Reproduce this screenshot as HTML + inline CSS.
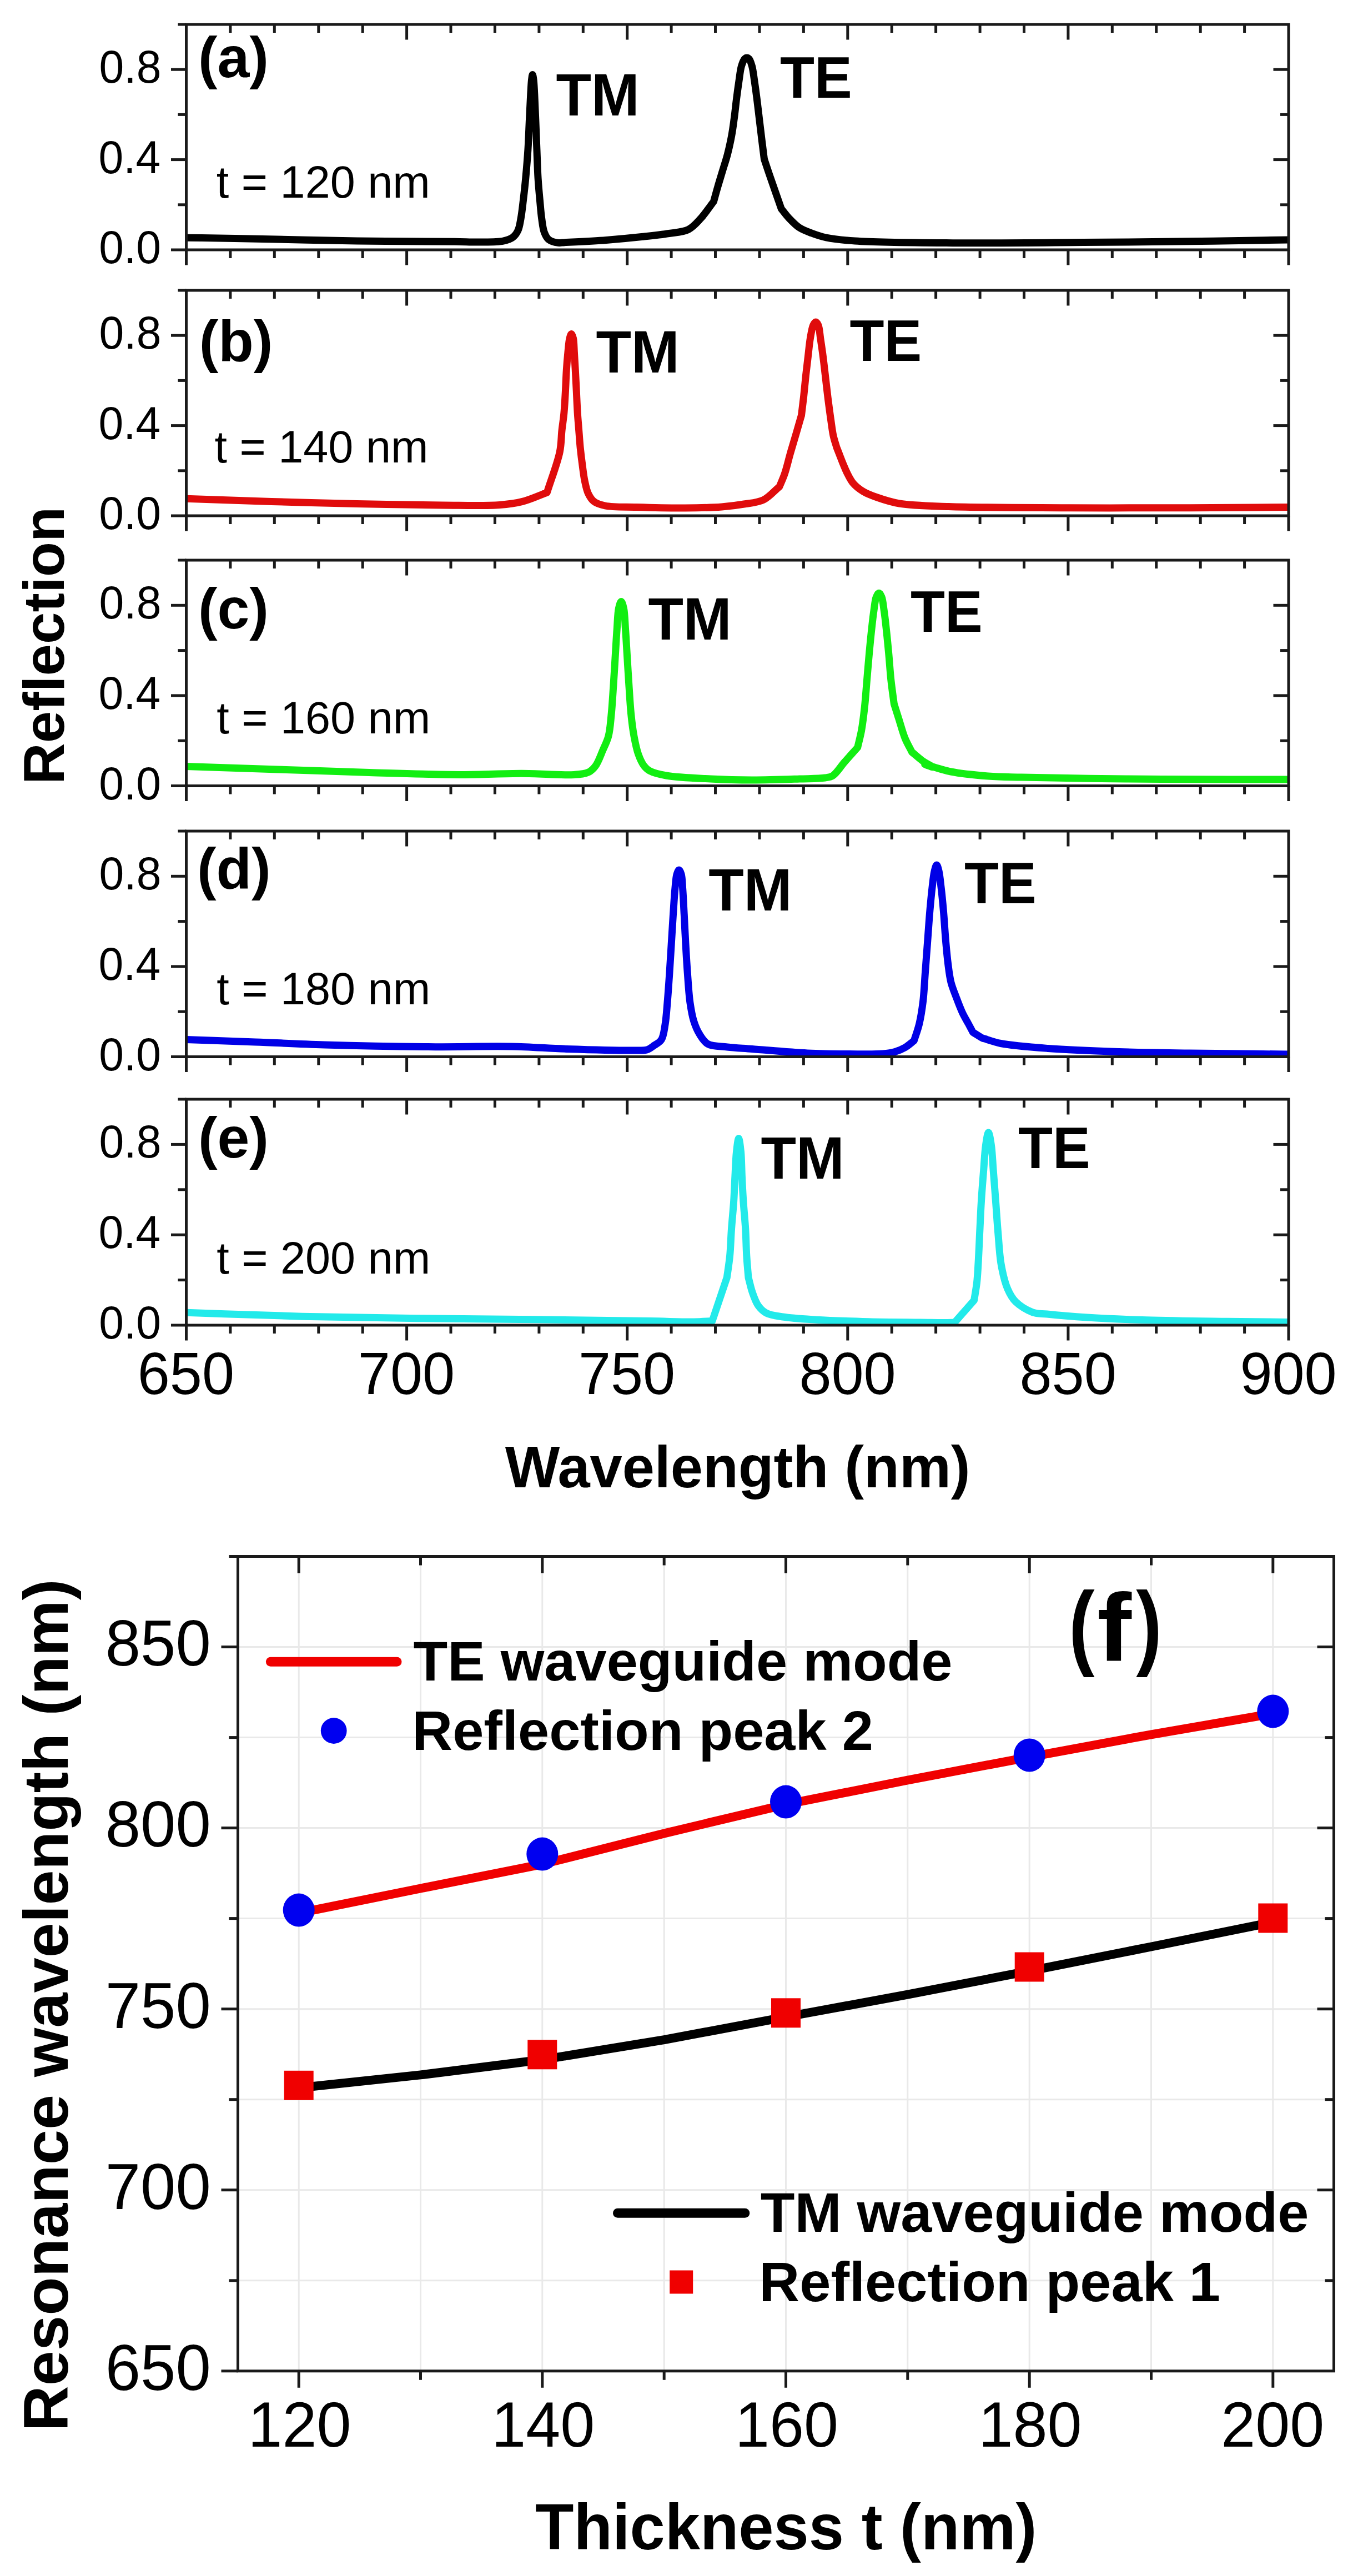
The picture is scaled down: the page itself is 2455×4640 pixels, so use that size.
<!DOCTYPE html>
<html><head><meta charset="utf-8"><title>Reflection spectra</title>
<style>html,body{margin:0;padding:0;background:#fff;overflow:hidden}svg{display:block}</style></head>
<body><svg width="2455" height="4640" viewBox="0 0 2455 4640">
<rect x="0" y="0" width="2455" height="4640" fill="#fff"/>
<g font-family="Liberation Sans, Arial, sans-serif">
<path d="M335.5,428.2 C364.7,428.6 387.2,428.9 423.0,429.5 C479.7,430.5 573.8,433.0 643.0,434.0 C704.9,434.9 779.9,434.8 819.0,435.3 C838.6,435.5 848.4,436.2 863.0,436.0 C877.5,435.8 895.4,436.4 906.4,434.1 C913.6,432.6 919.1,430.9 923.6,427.5 C927.7,424.5 930.5,420.5 932.8,415.6 C935.7,409.7 936.6,401.9 938.1,393.8 C939.9,384.0 941.1,372.3 942.5,360.8 C944.0,348.2 945.5,335.4 946.8,321.2 C948.3,304.9 949.9,286.0 951.0,268.4 C952.1,250.8 952.7,232.6 953.5,215.6 C954.3,199.7 955.0,182.7 955.8,169.4 C956.4,159.4 956.8,149.4 957.6,143.0 C958.1,139.3 958.6,134.4 959.2,134.4 C959.8,134.4 960.5,139.3 961.0,143.0 C961.9,149.4 962.2,159.4 962.8,169.4 C963.5,182.7 964.1,199.7 964.8,215.6 C965.5,232.6 966.2,250.8 966.9,268.4 C967.6,286.0 968.1,304.9 969.1,321.2 C970.0,335.4 971.2,348.2 972.4,360.8 C973.5,372.3 974.2,383.6 975.7,393.8 C977.0,402.6 977.7,411.6 980.3,418.3 C982.3,423.6 984.4,428.3 988.3,431.5 C992.5,434.9 1000.8,436.8 1005.4,437.4 C1008.3,437.8 1009.0,437.2 1012.8,437.0 C1025.2,436.3 1066.8,434.3 1092.0,432.4 C1115.0,430.7 1137.9,428.5 1158.0,426.3 C1175.0,424.5 1190.5,422.9 1205.0,420.5 C1217.6,418.5 1230.2,418.3 1240.0,413.4 C1248.9,408.9 1254.9,401.4 1262.0,393.7 C1270.1,384.9 1277.7,373.2 1285.5,362.9 C1287.9,354.1 1290.2,345.5 1292.8,336.5 C1295.5,327.0 1298.7,317.0 1301.6,307.2 C1304.5,297.4 1307.8,288.0 1310.4,277.8 C1313.2,267.0 1315.8,255.0 1317.8,244.1 C1319.7,234.0 1320.8,225.1 1322.2,214.7 C1323.8,203.2 1325.1,189.8 1326.6,178.0 C1328.0,166.9 1329.5,156.0 1331.0,145.8 C1332.4,136.5 1333.3,126.5 1335.4,119.3 C1337.0,114.0 1339.1,108.5 1341.2,106.1 C1342.4,104.8 1343.6,103.9 1344.9,103.9 C1346.3,103.8 1348.0,104.7 1349.3,106.1 C1351.5,108.5 1353.0,114.1 1354.5,119.3 C1356.5,126.5 1357.5,136.5 1358.9,145.8 C1360.4,156.0 1361.9,166.9 1363.3,178.0 C1364.8,189.8 1366.2,202.5 1367.7,214.7 C1369.2,226.9 1370.6,239.3 1372.1,251.4 C1373.6,263.3 1375.0,274.9 1376.5,286.6 C1379.4,295.4 1382.2,304.0 1385.3,313.0 C1388.5,322.5 1392.0,332.3 1395.5,342.4 C1399.3,353.3 1403.4,364.9 1407.3,376.1 C1411.7,381.5 1415.5,386.9 1420.5,392.3 C1426.2,398.3 1432.9,405.5 1440.0,410.2 C1446.8,414.6 1454.3,417.1 1462.0,420.0 C1470.3,423.1 1477.9,425.8 1488.2,428.0 C1502.4,431.0 1517.6,432.5 1540.0,434.0 C1581.2,436.8 1653.1,437.2 1716.0,437.7 C1788.7,438.3 1872.7,437.2 1951.0,436.6 C2029.2,436.0 2118.0,435.1 2185.5,434.2 C2236.8,433.5 2275.8,432.7 2321.0,431.9" fill="none" stroke="#000000" stroke-width="13" stroke-linejoin="round" stroke-linecap="butt"/>
<rect x="335.5" y="44" width="1985.5" height="406" fill="none" stroke="#1a1a1a" stroke-width="5"/>
<line x1="335.5" y1="450.0" x2="335.5" y2="477.5" stroke="#1a1a1a" stroke-width="5" stroke-linecap="butt" />
<line x1="414.9" y1="450.0" x2="414.9" y2="465.0" stroke="#1a1a1a" stroke-width="5" stroke-linecap="butt" />
<line x1="414.9" y1="44.0" x2="414.9" y2="59.0" stroke="#1a1a1a" stroke-width="5" stroke-linecap="butt" />
<line x1="494.3" y1="450.0" x2="494.3" y2="465.0" stroke="#1a1a1a" stroke-width="5" stroke-linecap="butt" />
<line x1="494.3" y1="44.0" x2="494.3" y2="59.0" stroke="#1a1a1a" stroke-width="5" stroke-linecap="butt" />
<line x1="573.8" y1="450.0" x2="573.8" y2="465.0" stroke="#1a1a1a" stroke-width="5" stroke-linecap="butt" />
<line x1="573.8" y1="44.0" x2="573.8" y2="59.0" stroke="#1a1a1a" stroke-width="5" stroke-linecap="butt" />
<line x1="653.2" y1="450.0" x2="653.2" y2="465.0" stroke="#1a1a1a" stroke-width="5" stroke-linecap="butt" />
<line x1="653.2" y1="44.0" x2="653.2" y2="59.0" stroke="#1a1a1a" stroke-width="5" stroke-linecap="butt" />
<line x1="732.6" y1="450.0" x2="732.6" y2="477.5" stroke="#1a1a1a" stroke-width="5" stroke-linecap="butt" />
<line x1="732.6" y1="44.0" x2="732.6" y2="71.5" stroke="#1a1a1a" stroke-width="5" stroke-linecap="butt" />
<line x1="812.0" y1="450.0" x2="812.0" y2="465.0" stroke="#1a1a1a" stroke-width="5" stroke-linecap="butt" />
<line x1="812.0" y1="44.0" x2="812.0" y2="59.0" stroke="#1a1a1a" stroke-width="5" stroke-linecap="butt" />
<line x1="891.4" y1="450.0" x2="891.4" y2="465.0" stroke="#1a1a1a" stroke-width="5" stroke-linecap="butt" />
<line x1="891.4" y1="44.0" x2="891.4" y2="59.0" stroke="#1a1a1a" stroke-width="5" stroke-linecap="butt" />
<line x1="970.9" y1="450.0" x2="970.9" y2="465.0" stroke="#1a1a1a" stroke-width="5" stroke-linecap="butt" />
<line x1="970.9" y1="44.0" x2="970.9" y2="59.0" stroke="#1a1a1a" stroke-width="5" stroke-linecap="butt" />
<line x1="1050.3" y1="450.0" x2="1050.3" y2="465.0" stroke="#1a1a1a" stroke-width="5" stroke-linecap="butt" />
<line x1="1050.3" y1="44.0" x2="1050.3" y2="59.0" stroke="#1a1a1a" stroke-width="5" stroke-linecap="butt" />
<line x1="1129.7" y1="450.0" x2="1129.7" y2="477.5" stroke="#1a1a1a" stroke-width="5" stroke-linecap="butt" />
<line x1="1129.7" y1="44.0" x2="1129.7" y2="71.5" stroke="#1a1a1a" stroke-width="5" stroke-linecap="butt" />
<line x1="1209.1" y1="450.0" x2="1209.1" y2="465.0" stroke="#1a1a1a" stroke-width="5" stroke-linecap="butt" />
<line x1="1209.1" y1="44.0" x2="1209.1" y2="59.0" stroke="#1a1a1a" stroke-width="5" stroke-linecap="butt" />
<line x1="1288.5" y1="450.0" x2="1288.5" y2="465.0" stroke="#1a1a1a" stroke-width="5" stroke-linecap="butt" />
<line x1="1288.5" y1="44.0" x2="1288.5" y2="59.0" stroke="#1a1a1a" stroke-width="5" stroke-linecap="butt" />
<line x1="1368.0" y1="450.0" x2="1368.0" y2="465.0" stroke="#1a1a1a" stroke-width="5" stroke-linecap="butt" />
<line x1="1368.0" y1="44.0" x2="1368.0" y2="59.0" stroke="#1a1a1a" stroke-width="5" stroke-linecap="butt" />
<line x1="1447.4" y1="450.0" x2="1447.4" y2="465.0" stroke="#1a1a1a" stroke-width="5" stroke-linecap="butt" />
<line x1="1447.4" y1="44.0" x2="1447.4" y2="59.0" stroke="#1a1a1a" stroke-width="5" stroke-linecap="butt" />
<line x1="1526.8" y1="450.0" x2="1526.8" y2="477.5" stroke="#1a1a1a" stroke-width="5" stroke-linecap="butt" />
<line x1="1526.8" y1="44.0" x2="1526.8" y2="71.5" stroke="#1a1a1a" stroke-width="5" stroke-linecap="butt" />
<line x1="1606.2" y1="450.0" x2="1606.2" y2="465.0" stroke="#1a1a1a" stroke-width="5" stroke-linecap="butt" />
<line x1="1606.2" y1="44.0" x2="1606.2" y2="59.0" stroke="#1a1a1a" stroke-width="5" stroke-linecap="butt" />
<line x1="1685.6" y1="450.0" x2="1685.6" y2="465.0" stroke="#1a1a1a" stroke-width="5" stroke-linecap="butt" />
<line x1="1685.6" y1="44.0" x2="1685.6" y2="59.0" stroke="#1a1a1a" stroke-width="5" stroke-linecap="butt" />
<line x1="1765.1" y1="450.0" x2="1765.1" y2="465.0" stroke="#1a1a1a" stroke-width="5" stroke-linecap="butt" />
<line x1="1765.1" y1="44.0" x2="1765.1" y2="59.0" stroke="#1a1a1a" stroke-width="5" stroke-linecap="butt" />
<line x1="1844.5" y1="450.0" x2="1844.5" y2="465.0" stroke="#1a1a1a" stroke-width="5" stroke-linecap="butt" />
<line x1="1844.5" y1="44.0" x2="1844.5" y2="59.0" stroke="#1a1a1a" stroke-width="5" stroke-linecap="butt" />
<line x1="1923.9" y1="450.0" x2="1923.9" y2="477.5" stroke="#1a1a1a" stroke-width="5" stroke-linecap="butt" />
<line x1="1923.9" y1="44.0" x2="1923.9" y2="71.5" stroke="#1a1a1a" stroke-width="5" stroke-linecap="butt" />
<line x1="2003.3" y1="450.0" x2="2003.3" y2="465.0" stroke="#1a1a1a" stroke-width="5" stroke-linecap="butt" />
<line x1="2003.3" y1="44.0" x2="2003.3" y2="59.0" stroke="#1a1a1a" stroke-width="5" stroke-linecap="butt" />
<line x1="2082.7" y1="450.0" x2="2082.7" y2="465.0" stroke="#1a1a1a" stroke-width="5" stroke-linecap="butt" />
<line x1="2082.7" y1="44.0" x2="2082.7" y2="59.0" stroke="#1a1a1a" stroke-width="5" stroke-linecap="butt" />
<line x1="2162.2" y1="450.0" x2="2162.2" y2="465.0" stroke="#1a1a1a" stroke-width="5" stroke-linecap="butt" />
<line x1="2162.2" y1="44.0" x2="2162.2" y2="59.0" stroke="#1a1a1a" stroke-width="5" stroke-linecap="butt" />
<line x1="2241.6" y1="450.0" x2="2241.6" y2="465.0" stroke="#1a1a1a" stroke-width="5" stroke-linecap="butt" />
<line x1="2241.6" y1="44.0" x2="2241.6" y2="59.0" stroke="#1a1a1a" stroke-width="5" stroke-linecap="butt" />
<line x1="2321.0" y1="450.0" x2="2321.0" y2="477.5" stroke="#1a1a1a" stroke-width="5" stroke-linecap="butt" />
<line x1="308.0" y1="450.0" x2="335.5" y2="450.0" stroke="#1a1a1a" stroke-width="5" stroke-linecap="butt" />
<text transform="translate(178.2,474.0) scale(1,1.025)" font-size="80.5" font-weight="normal" fill="#000" >0.0</text>
<line x1="320.5" y1="368.8" x2="335.5" y2="368.8" stroke="#1a1a1a" stroke-width="5" stroke-linecap="butt" />
<line x1="2306.0" y1="368.8" x2="2321.0" y2="368.8" stroke="#1a1a1a" stroke-width="5" stroke-linecap="butt" />
<line x1="308.0" y1="287.6" x2="335.5" y2="287.6" stroke="#1a1a1a" stroke-width="5" stroke-linecap="butt" />
<line x1="2293.5" y1="287.6" x2="2321.0" y2="287.6" stroke="#1a1a1a" stroke-width="5" stroke-linecap="butt" />
<text transform="translate(177.4,311.6) scale(1,1.025)" font-size="80.5" font-weight="normal" fill="#000" >0.4</text>
<line x1="320.5" y1="206.4" x2="335.5" y2="206.4" stroke="#1a1a1a" stroke-width="5" stroke-linecap="butt" />
<line x1="2306.0" y1="206.4" x2="2321.0" y2="206.4" stroke="#1a1a1a" stroke-width="5" stroke-linecap="butt" />
<line x1="308.0" y1="125.2" x2="335.5" y2="125.2" stroke="#1a1a1a" stroke-width="5" stroke-linecap="butt" />
<line x1="2293.5" y1="125.2" x2="2321.0" y2="125.2" stroke="#1a1a1a" stroke-width="5" stroke-linecap="butt" />
<text transform="translate(178.6,149.2) scale(1,1.025)" font-size="80.5" font-weight="normal" fill="#000" >0.8</text>
<line x1="320.5" y1="44.0" x2="335.5" y2="44.0" stroke="#1a1a1a" stroke-width="5" stroke-linecap="butt" />
<text transform="translate(356.9,139.4) scale(1,1.0)" font-size="104" font-weight="bold" fill="#000" >(a)</text>
<text transform="translate(389.8,356.0) scale(1,1.015)" font-size="81" font-weight="normal" fill="#000" >t = 120 nm</text>
<text transform="translate(1001.4,207.5) scale(1,1.04)" font-size="104" font-weight="bold" fill="#000" >TM</text>
<text transform="translate(1404.9,176.3) scale(1,1.04)" font-size="101.5" font-weight="bold" fill="#000" >TE</text>
<path d="M335.5,898.2 C386.7,899.9 437.8,901.9 489.0,903.4 C540.3,905.0 591.7,906.4 643.0,907.5 C694.3,908.6 750.8,909.7 797.0,910.0 C834.8,910.2 873.5,911.5 900.0,909.5 C916.8,908.2 927.2,906.9 941.0,903.4 C955.7,899.7 970.5,892.6 985.3,887.1 C992.9,862.8 1004.0,834.8 1008.2,814.1 C1011.2,799.4 1010.7,787.9 1012.0,775.7 C1013.2,764.5 1014.9,754.9 1015.9,743.7 C1017.0,731.5 1017.7,718.1 1018.4,705.3 C1019.1,692.5 1019.5,679.0 1020.3,666.8 C1021.0,655.6 1021.9,644.9 1022.9,634.8 C1023.8,625.8 1024.5,615.2 1026.1,609.2 C1027.0,605.8 1028.2,601.5 1029.3,601.5 C1030.4,601.5 1031.7,605.8 1032.5,609.2 C1033.9,615.2 1033.8,625.8 1034.4,634.8 C1035.1,644.9 1035.7,655.6 1036.3,666.8 C1037.0,679.0 1037.6,692.5 1038.3,705.3 C1038.9,718.1 1039.4,731.5 1040.2,743.7 C1040.9,754.9 1041.9,765.0 1042.7,775.7 C1043.6,786.4 1044.2,797.0 1045.3,807.7 C1046.4,818.4 1047.8,829.6 1049.2,839.7 C1050.4,848.7 1051.3,857.0 1053.0,865.3 C1054.7,873.4 1056.3,882.2 1059.4,888.8 C1062.1,894.5 1064.9,899.6 1069.6,903.2 C1074.8,907.2 1081.3,909.2 1090.0,911.0 C1103.9,913.9 1125.2,912.9 1146.0,913.5 C1172.0,914.3 1206.8,915.2 1234.0,915.0 C1257.6,914.8 1280.8,914.5 1300.0,913.0 C1315.0,911.8 1327.2,910.2 1340.0,908.0 C1352.1,906.0 1364.4,905.6 1374.9,900.5 C1385.8,895.2 1394.3,884.4 1404.0,876.4 C1407.1,868.8 1410.3,862.3 1413.2,853.7 C1416.9,842.8 1420.1,828.4 1423.7,816.0 C1427.2,803.8 1430.9,791.6 1434.3,780.0 C1437.5,769.0 1440.4,758.7 1443.5,748.1 C1444.8,737.1 1446.2,726.6 1447.5,715.1 C1448.9,702.5 1450.1,688.2 1451.5,675.6 C1452.8,664.1 1454.1,653.6 1455.4,642.6 C1456.7,631.6 1457.7,619.7 1459.4,609.6 C1460.9,601.0 1462.3,590.9 1464.7,585.8 C1466.0,583.0 1467.8,580.0 1469.3,580.0 C1470.8,580.0 1472.7,583.0 1473.9,585.8 C1476.1,590.9 1476.5,601.0 1477.8,609.6 C1479.3,619.7 1481.1,631.6 1482.5,642.6 C1483.9,653.6 1485.1,664.1 1486.4,675.6 C1487.9,688.2 1489.4,701.9 1491.0,715.1 C1492.7,728.3 1494.5,742.4 1496.3,754.7 C1497.9,765.5 1499.0,775.9 1501.0,785.0 C1502.7,792.7 1505.0,799.0 1507.0,806.0 C1513.1,821.0 1519.4,839.2 1525.3,851.0 C1529.4,859.2 1532.2,865.3 1537.2,871.0 C1542.1,876.7 1548.2,881.3 1555.0,885.3 C1562.4,889.8 1570.6,892.7 1580.0,896.0 C1591.7,900.1 1603.9,904.3 1620.0,907.0 C1643.6,910.9 1672.5,911.2 1708.6,912.5 C1765.0,914.5 1853.3,914.3 1925.7,914.7 C1998.1,915.1 2074.1,914.9 2142.9,914.7 C2205.2,914.5 2261.6,914.0 2321.0,913.6" fill="none" stroke="#e00c0c" stroke-width="13" stroke-linejoin="round" stroke-linecap="butt"/>
<rect x="335.5" y="523" width="1985.5" height="406" fill="none" stroke="#1a1a1a" stroke-width="5"/>
<line x1="335.5" y1="929.0" x2="335.5" y2="956.5" stroke="#1a1a1a" stroke-width="5" stroke-linecap="butt" />
<line x1="414.9" y1="929.0" x2="414.9" y2="944.0" stroke="#1a1a1a" stroke-width="5" stroke-linecap="butt" />
<line x1="414.9" y1="523.0" x2="414.9" y2="538.0" stroke="#1a1a1a" stroke-width="5" stroke-linecap="butt" />
<line x1="494.3" y1="929.0" x2="494.3" y2="944.0" stroke="#1a1a1a" stroke-width="5" stroke-linecap="butt" />
<line x1="494.3" y1="523.0" x2="494.3" y2="538.0" stroke="#1a1a1a" stroke-width="5" stroke-linecap="butt" />
<line x1="573.8" y1="929.0" x2="573.8" y2="944.0" stroke="#1a1a1a" stroke-width="5" stroke-linecap="butt" />
<line x1="573.8" y1="523.0" x2="573.8" y2="538.0" stroke="#1a1a1a" stroke-width="5" stroke-linecap="butt" />
<line x1="653.2" y1="929.0" x2="653.2" y2="944.0" stroke="#1a1a1a" stroke-width="5" stroke-linecap="butt" />
<line x1="653.2" y1="523.0" x2="653.2" y2="538.0" stroke="#1a1a1a" stroke-width="5" stroke-linecap="butt" />
<line x1="732.6" y1="929.0" x2="732.6" y2="956.5" stroke="#1a1a1a" stroke-width="5" stroke-linecap="butt" />
<line x1="732.6" y1="523.0" x2="732.6" y2="550.5" stroke="#1a1a1a" stroke-width="5" stroke-linecap="butt" />
<line x1="812.0" y1="929.0" x2="812.0" y2="944.0" stroke="#1a1a1a" stroke-width="5" stroke-linecap="butt" />
<line x1="812.0" y1="523.0" x2="812.0" y2="538.0" stroke="#1a1a1a" stroke-width="5" stroke-linecap="butt" />
<line x1="891.4" y1="929.0" x2="891.4" y2="944.0" stroke="#1a1a1a" stroke-width="5" stroke-linecap="butt" />
<line x1="891.4" y1="523.0" x2="891.4" y2="538.0" stroke="#1a1a1a" stroke-width="5" stroke-linecap="butt" />
<line x1="970.9" y1="929.0" x2="970.9" y2="944.0" stroke="#1a1a1a" stroke-width="5" stroke-linecap="butt" />
<line x1="970.9" y1="523.0" x2="970.9" y2="538.0" stroke="#1a1a1a" stroke-width="5" stroke-linecap="butt" />
<line x1="1050.3" y1="929.0" x2="1050.3" y2="944.0" stroke="#1a1a1a" stroke-width="5" stroke-linecap="butt" />
<line x1="1050.3" y1="523.0" x2="1050.3" y2="538.0" stroke="#1a1a1a" stroke-width="5" stroke-linecap="butt" />
<line x1="1129.7" y1="929.0" x2="1129.7" y2="956.5" stroke="#1a1a1a" stroke-width="5" stroke-linecap="butt" />
<line x1="1129.7" y1="523.0" x2="1129.7" y2="550.5" stroke="#1a1a1a" stroke-width="5" stroke-linecap="butt" />
<line x1="1209.1" y1="929.0" x2="1209.1" y2="944.0" stroke="#1a1a1a" stroke-width="5" stroke-linecap="butt" />
<line x1="1209.1" y1="523.0" x2="1209.1" y2="538.0" stroke="#1a1a1a" stroke-width="5" stroke-linecap="butt" />
<line x1="1288.5" y1="929.0" x2="1288.5" y2="944.0" stroke="#1a1a1a" stroke-width="5" stroke-linecap="butt" />
<line x1="1288.5" y1="523.0" x2="1288.5" y2="538.0" stroke="#1a1a1a" stroke-width="5" stroke-linecap="butt" />
<line x1="1368.0" y1="929.0" x2="1368.0" y2="944.0" stroke="#1a1a1a" stroke-width="5" stroke-linecap="butt" />
<line x1="1368.0" y1="523.0" x2="1368.0" y2="538.0" stroke="#1a1a1a" stroke-width="5" stroke-linecap="butt" />
<line x1="1447.4" y1="929.0" x2="1447.4" y2="944.0" stroke="#1a1a1a" stroke-width="5" stroke-linecap="butt" />
<line x1="1447.4" y1="523.0" x2="1447.4" y2="538.0" stroke="#1a1a1a" stroke-width="5" stroke-linecap="butt" />
<line x1="1526.8" y1="929.0" x2="1526.8" y2="956.5" stroke="#1a1a1a" stroke-width="5" stroke-linecap="butt" />
<line x1="1526.8" y1="523.0" x2="1526.8" y2="550.5" stroke="#1a1a1a" stroke-width="5" stroke-linecap="butt" />
<line x1="1606.2" y1="929.0" x2="1606.2" y2="944.0" stroke="#1a1a1a" stroke-width="5" stroke-linecap="butt" />
<line x1="1606.2" y1="523.0" x2="1606.2" y2="538.0" stroke="#1a1a1a" stroke-width="5" stroke-linecap="butt" />
<line x1="1685.6" y1="929.0" x2="1685.6" y2="944.0" stroke="#1a1a1a" stroke-width="5" stroke-linecap="butt" />
<line x1="1685.6" y1="523.0" x2="1685.6" y2="538.0" stroke="#1a1a1a" stroke-width="5" stroke-linecap="butt" />
<line x1="1765.1" y1="929.0" x2="1765.1" y2="944.0" stroke="#1a1a1a" stroke-width="5" stroke-linecap="butt" />
<line x1="1765.1" y1="523.0" x2="1765.1" y2="538.0" stroke="#1a1a1a" stroke-width="5" stroke-linecap="butt" />
<line x1="1844.5" y1="929.0" x2="1844.5" y2="944.0" stroke="#1a1a1a" stroke-width="5" stroke-linecap="butt" />
<line x1="1844.5" y1="523.0" x2="1844.5" y2="538.0" stroke="#1a1a1a" stroke-width="5" stroke-linecap="butt" />
<line x1="1923.9" y1="929.0" x2="1923.9" y2="956.5" stroke="#1a1a1a" stroke-width="5" stroke-linecap="butt" />
<line x1="1923.9" y1="523.0" x2="1923.9" y2="550.5" stroke="#1a1a1a" stroke-width="5" stroke-linecap="butt" />
<line x1="2003.3" y1="929.0" x2="2003.3" y2="944.0" stroke="#1a1a1a" stroke-width="5" stroke-linecap="butt" />
<line x1="2003.3" y1="523.0" x2="2003.3" y2="538.0" stroke="#1a1a1a" stroke-width="5" stroke-linecap="butt" />
<line x1="2082.7" y1="929.0" x2="2082.7" y2="944.0" stroke="#1a1a1a" stroke-width="5" stroke-linecap="butt" />
<line x1="2082.7" y1="523.0" x2="2082.7" y2="538.0" stroke="#1a1a1a" stroke-width="5" stroke-linecap="butt" />
<line x1="2162.2" y1="929.0" x2="2162.2" y2="944.0" stroke="#1a1a1a" stroke-width="5" stroke-linecap="butt" />
<line x1="2162.2" y1="523.0" x2="2162.2" y2="538.0" stroke="#1a1a1a" stroke-width="5" stroke-linecap="butt" />
<line x1="2241.6" y1="929.0" x2="2241.6" y2="944.0" stroke="#1a1a1a" stroke-width="5" stroke-linecap="butt" />
<line x1="2241.6" y1="523.0" x2="2241.6" y2="538.0" stroke="#1a1a1a" stroke-width="5" stroke-linecap="butt" />
<line x1="2321.0" y1="929.0" x2="2321.0" y2="956.5" stroke="#1a1a1a" stroke-width="5" stroke-linecap="butt" />
<line x1="308.0" y1="929.0" x2="335.5" y2="929.0" stroke="#1a1a1a" stroke-width="5" stroke-linecap="butt" />
<text transform="translate(178.2,953.0) scale(1,1.025)" font-size="80.5" font-weight="normal" fill="#000" >0.0</text>
<line x1="320.5" y1="847.8" x2="335.5" y2="847.8" stroke="#1a1a1a" stroke-width="5" stroke-linecap="butt" />
<line x1="2306.0" y1="847.8" x2="2321.0" y2="847.8" stroke="#1a1a1a" stroke-width="5" stroke-linecap="butt" />
<line x1="308.0" y1="766.6" x2="335.5" y2="766.6" stroke="#1a1a1a" stroke-width="5" stroke-linecap="butt" />
<line x1="2293.5" y1="766.6" x2="2321.0" y2="766.6" stroke="#1a1a1a" stroke-width="5" stroke-linecap="butt" />
<text transform="translate(177.4,790.6) scale(1,1.025)" font-size="80.5" font-weight="normal" fill="#000" >0.4</text>
<line x1="320.5" y1="685.4" x2="335.5" y2="685.4" stroke="#1a1a1a" stroke-width="5" stroke-linecap="butt" />
<line x1="2306.0" y1="685.4" x2="2321.0" y2="685.4" stroke="#1a1a1a" stroke-width="5" stroke-linecap="butt" />
<line x1="308.0" y1="604.2" x2="335.5" y2="604.2" stroke="#1a1a1a" stroke-width="5" stroke-linecap="butt" />
<line x1="2293.5" y1="604.2" x2="2321.0" y2="604.2" stroke="#1a1a1a" stroke-width="5" stroke-linecap="butt" />
<text transform="translate(178.6,628.2) scale(1,1.025)" font-size="80.5" font-weight="normal" fill="#000" >0.8</text>
<line x1="320.5" y1="523.0" x2="335.5" y2="523.0" stroke="#1a1a1a" stroke-width="5" stroke-linecap="butt" />
<text transform="translate(358.7,650.4) scale(1,1.0)" font-size="104" font-weight="bold" fill="#000" >(b)</text>
<text transform="translate(386.5,832.5) scale(1,1.015)" font-size="81" font-weight="normal" fill="#000" >t = 140 nm</text>
<text transform="translate(1073.4,670.9) scale(1,1.04)" font-size="104" font-weight="bold" fill="#000" >TM</text>
<text transform="translate(1530.5,649.6) scale(1,1.04)" font-size="101.5" font-weight="bold" fill="#000" >TE</text>
<path d="M335.5,1380.5 C390.3,1382.3 445.1,1384.2 500.0,1386.0 C555.0,1387.8 610.0,1389.9 665.0,1391.5 C720.0,1393.1 780.6,1395.3 830.0,1395.4 C870.4,1395.5 904.8,1393.1 940.0,1393.2 C972.6,1393.3 1012.5,1397.0 1034.0,1395.4 C1045.4,1394.6 1053.2,1394.2 1060.0,1390.9 C1065.5,1388.2 1069.0,1384.5 1072.8,1379.3 C1077.9,1372.4 1081.7,1360.8 1085.6,1351.7 C1089.3,1343.1 1093.4,1335.7 1095.9,1326.1 C1098.9,1314.8 1099.6,1301.4 1101.0,1287.7 C1102.6,1271.9 1103.6,1253.6 1104.8,1236.5 C1106.0,1219.4 1106.9,1202.4 1108.0,1185.3 C1109.1,1168.2 1110.0,1149.9 1111.2,1134.0 C1112.2,1120.3 1112.4,1104.7 1114.4,1095.6 C1115.6,1090.3 1117.4,1083.5 1118.9,1083.5 C1120.4,1083.5 1122.2,1090.3 1123.4,1095.6 C1125.4,1104.7 1125.6,1120.3 1126.6,1134.0 C1127.8,1149.9 1128.7,1168.2 1129.8,1185.3 C1130.9,1202.4 1131.8,1219.4 1133.0,1236.5 C1134.2,1253.6 1135.1,1271.9 1136.8,1287.7 C1138.2,1301.4 1139.7,1313.9 1142.0,1326.1 C1144.1,1337.3 1146.2,1348.7 1149.6,1358.1 C1152.4,1366.1 1155.9,1374.0 1159.9,1379.3 C1162.9,1383.3 1165.4,1385.7 1170.0,1388.3 C1177.1,1392.2 1187.4,1394.7 1200.0,1397.0 C1220.1,1400.6 1253.8,1401.7 1280.0,1403.0 C1305.1,1404.3 1328.4,1405.0 1354.0,1405.0 C1381.6,1405.1 1415.8,1403.8 1440.0,1403.0 C1457.7,1402.4 1475.2,1402.7 1486.0,1401.0 C1492.1,1400.1 1495.3,1400.1 1500.0,1397.2 C1507.0,1392.8 1513.8,1381.1 1521.0,1372.9 C1528.6,1364.2 1536.8,1355.2 1544.7,1346.3 C1547.0,1336.0 1549.7,1326.6 1551.7,1315.5 C1554.0,1302.7 1555.7,1288.1 1557.3,1273.6 C1559.0,1257.9 1560.1,1241.0 1561.5,1224.7 C1562.9,1208.4 1564.2,1191.5 1565.7,1175.8 C1567.1,1161.3 1568.4,1147.1 1569.9,1133.8 C1571.2,1121.6 1572.5,1109.4 1574.1,1098.9 C1575.4,1090.2 1576.1,1080.6 1578.3,1075.2 C1579.6,1072.0 1581.5,1068.2 1583.1,1068.2 C1584.7,1068.2 1586.7,1072.0 1588.0,1075.2 C1590.2,1080.6 1590.9,1090.2 1592.2,1098.9 C1593.8,1109.4 1595.1,1121.6 1596.4,1133.8 C1597.9,1147.1 1599.2,1161.3 1600.6,1175.8 C1602.1,1191.5 1603.1,1208.9 1604.8,1224.7 C1606.4,1239.6 1608.5,1253.6 1610.4,1268.0 C1613.2,1276.9 1615.8,1285.1 1618.8,1294.6 C1622.3,1305.4 1625.7,1319.0 1630.0,1329.5 C1633.7,1338.7 1638.3,1346.2 1642.5,1354.6 C1648.6,1359.6 1654.4,1365.1 1660.7,1369.7 C1666.9,1374.2 1680.3,1381.2 1680.0,1381.8 C1679.7,1382.3 1665.9,1376.9 1666.0,1376.7 C1666.1,1376.3 1695.6,1386.6 1712.8,1390.0 C1733.0,1394.1 1758.2,1396.3 1780.0,1398.0 C1800.5,1399.6 1814.4,1399.4 1840.0,1400.0 C1885.2,1401.1 1965.3,1402.3 2028.0,1403.0 C2090.7,1403.7 2162.4,1403.9 2216.0,1404.0 C2256.1,1404.1 2286.0,1404.0 2321.0,1404.0" fill="none" stroke="#12ee12" stroke-width="13" stroke-linejoin="round" stroke-linecap="butt"/>
<rect x="335.5" y="1009" width="1985.5" height="406.5" fill="none" stroke="#1a1a1a" stroke-width="5"/>
<line x1="335.5" y1="1415.5" x2="335.5" y2="1443.0" stroke="#1a1a1a" stroke-width="5" stroke-linecap="butt" />
<line x1="414.9" y1="1415.5" x2="414.9" y2="1430.5" stroke="#1a1a1a" stroke-width="5" stroke-linecap="butt" />
<line x1="414.9" y1="1009.0" x2="414.9" y2="1024.0" stroke="#1a1a1a" stroke-width="5" stroke-linecap="butt" />
<line x1="494.3" y1="1415.5" x2="494.3" y2="1430.5" stroke="#1a1a1a" stroke-width="5" stroke-linecap="butt" />
<line x1="494.3" y1="1009.0" x2="494.3" y2="1024.0" stroke="#1a1a1a" stroke-width="5" stroke-linecap="butt" />
<line x1="573.8" y1="1415.5" x2="573.8" y2="1430.5" stroke="#1a1a1a" stroke-width="5" stroke-linecap="butt" />
<line x1="573.8" y1="1009.0" x2="573.8" y2="1024.0" stroke="#1a1a1a" stroke-width="5" stroke-linecap="butt" />
<line x1="653.2" y1="1415.5" x2="653.2" y2="1430.5" stroke="#1a1a1a" stroke-width="5" stroke-linecap="butt" />
<line x1="653.2" y1="1009.0" x2="653.2" y2="1024.0" stroke="#1a1a1a" stroke-width="5" stroke-linecap="butt" />
<line x1="732.6" y1="1415.5" x2="732.6" y2="1443.0" stroke="#1a1a1a" stroke-width="5" stroke-linecap="butt" />
<line x1="732.6" y1="1009.0" x2="732.6" y2="1036.5" stroke="#1a1a1a" stroke-width="5" stroke-linecap="butt" />
<line x1="812.0" y1="1415.5" x2="812.0" y2="1430.5" stroke="#1a1a1a" stroke-width="5" stroke-linecap="butt" />
<line x1="812.0" y1="1009.0" x2="812.0" y2="1024.0" stroke="#1a1a1a" stroke-width="5" stroke-linecap="butt" />
<line x1="891.4" y1="1415.5" x2="891.4" y2="1430.5" stroke="#1a1a1a" stroke-width="5" stroke-linecap="butt" />
<line x1="891.4" y1="1009.0" x2="891.4" y2="1024.0" stroke="#1a1a1a" stroke-width="5" stroke-linecap="butt" />
<line x1="970.9" y1="1415.5" x2="970.9" y2="1430.5" stroke="#1a1a1a" stroke-width="5" stroke-linecap="butt" />
<line x1="970.9" y1="1009.0" x2="970.9" y2="1024.0" stroke="#1a1a1a" stroke-width="5" stroke-linecap="butt" />
<line x1="1050.3" y1="1415.5" x2="1050.3" y2="1430.5" stroke="#1a1a1a" stroke-width="5" stroke-linecap="butt" />
<line x1="1050.3" y1="1009.0" x2="1050.3" y2="1024.0" stroke="#1a1a1a" stroke-width="5" stroke-linecap="butt" />
<line x1="1129.7" y1="1415.5" x2="1129.7" y2="1443.0" stroke="#1a1a1a" stroke-width="5" stroke-linecap="butt" />
<line x1="1129.7" y1="1009.0" x2="1129.7" y2="1036.5" stroke="#1a1a1a" stroke-width="5" stroke-linecap="butt" />
<line x1="1209.1" y1="1415.5" x2="1209.1" y2="1430.5" stroke="#1a1a1a" stroke-width="5" stroke-linecap="butt" />
<line x1="1209.1" y1="1009.0" x2="1209.1" y2="1024.0" stroke="#1a1a1a" stroke-width="5" stroke-linecap="butt" />
<line x1="1288.5" y1="1415.5" x2="1288.5" y2="1430.5" stroke="#1a1a1a" stroke-width="5" stroke-linecap="butt" />
<line x1="1288.5" y1="1009.0" x2="1288.5" y2="1024.0" stroke="#1a1a1a" stroke-width="5" stroke-linecap="butt" />
<line x1="1368.0" y1="1415.5" x2="1368.0" y2="1430.5" stroke="#1a1a1a" stroke-width="5" stroke-linecap="butt" />
<line x1="1368.0" y1="1009.0" x2="1368.0" y2="1024.0" stroke="#1a1a1a" stroke-width="5" stroke-linecap="butt" />
<line x1="1447.4" y1="1415.5" x2="1447.4" y2="1430.5" stroke="#1a1a1a" stroke-width="5" stroke-linecap="butt" />
<line x1="1447.4" y1="1009.0" x2="1447.4" y2="1024.0" stroke="#1a1a1a" stroke-width="5" stroke-linecap="butt" />
<line x1="1526.8" y1="1415.5" x2="1526.8" y2="1443.0" stroke="#1a1a1a" stroke-width="5" stroke-linecap="butt" />
<line x1="1526.8" y1="1009.0" x2="1526.8" y2="1036.5" stroke="#1a1a1a" stroke-width="5" stroke-linecap="butt" />
<line x1="1606.2" y1="1415.5" x2="1606.2" y2="1430.5" stroke="#1a1a1a" stroke-width="5" stroke-linecap="butt" />
<line x1="1606.2" y1="1009.0" x2="1606.2" y2="1024.0" stroke="#1a1a1a" stroke-width="5" stroke-linecap="butt" />
<line x1="1685.6" y1="1415.5" x2="1685.6" y2="1430.5" stroke="#1a1a1a" stroke-width="5" stroke-linecap="butt" />
<line x1="1685.6" y1="1009.0" x2="1685.6" y2="1024.0" stroke="#1a1a1a" stroke-width="5" stroke-linecap="butt" />
<line x1="1765.1" y1="1415.5" x2="1765.1" y2="1430.5" stroke="#1a1a1a" stroke-width="5" stroke-linecap="butt" />
<line x1="1765.1" y1="1009.0" x2="1765.1" y2="1024.0" stroke="#1a1a1a" stroke-width="5" stroke-linecap="butt" />
<line x1="1844.5" y1="1415.5" x2="1844.5" y2="1430.5" stroke="#1a1a1a" stroke-width="5" stroke-linecap="butt" />
<line x1="1844.5" y1="1009.0" x2="1844.5" y2="1024.0" stroke="#1a1a1a" stroke-width="5" stroke-linecap="butt" />
<line x1="1923.9" y1="1415.5" x2="1923.9" y2="1443.0" stroke="#1a1a1a" stroke-width="5" stroke-linecap="butt" />
<line x1="1923.9" y1="1009.0" x2="1923.9" y2="1036.5" stroke="#1a1a1a" stroke-width="5" stroke-linecap="butt" />
<line x1="2003.3" y1="1415.5" x2="2003.3" y2="1430.5" stroke="#1a1a1a" stroke-width="5" stroke-linecap="butt" />
<line x1="2003.3" y1="1009.0" x2="2003.3" y2="1024.0" stroke="#1a1a1a" stroke-width="5" stroke-linecap="butt" />
<line x1="2082.7" y1="1415.5" x2="2082.7" y2="1430.5" stroke="#1a1a1a" stroke-width="5" stroke-linecap="butt" />
<line x1="2082.7" y1="1009.0" x2="2082.7" y2="1024.0" stroke="#1a1a1a" stroke-width="5" stroke-linecap="butt" />
<line x1="2162.2" y1="1415.5" x2="2162.2" y2="1430.5" stroke="#1a1a1a" stroke-width="5" stroke-linecap="butt" />
<line x1="2162.2" y1="1009.0" x2="2162.2" y2="1024.0" stroke="#1a1a1a" stroke-width="5" stroke-linecap="butt" />
<line x1="2241.6" y1="1415.5" x2="2241.6" y2="1430.5" stroke="#1a1a1a" stroke-width="5" stroke-linecap="butt" />
<line x1="2241.6" y1="1009.0" x2="2241.6" y2="1024.0" stroke="#1a1a1a" stroke-width="5" stroke-linecap="butt" />
<line x1="2321.0" y1="1415.5" x2="2321.0" y2="1443.0" stroke="#1a1a1a" stroke-width="5" stroke-linecap="butt" />
<line x1="308.0" y1="1415.5" x2="335.5" y2="1415.5" stroke="#1a1a1a" stroke-width="5" stroke-linecap="butt" />
<text transform="translate(178.2,1439.5) scale(1,1.025)" font-size="80.5" font-weight="normal" fill="#000" >0.0</text>
<line x1="320.5" y1="1334.2" x2="335.5" y2="1334.2" stroke="#1a1a1a" stroke-width="5" stroke-linecap="butt" />
<line x1="2306.0" y1="1334.2" x2="2321.0" y2="1334.2" stroke="#1a1a1a" stroke-width="5" stroke-linecap="butt" />
<line x1="308.0" y1="1252.9" x2="335.5" y2="1252.9" stroke="#1a1a1a" stroke-width="5" stroke-linecap="butt" />
<line x1="2293.5" y1="1252.9" x2="2321.0" y2="1252.9" stroke="#1a1a1a" stroke-width="5" stroke-linecap="butt" />
<text transform="translate(177.4,1276.9) scale(1,1.025)" font-size="80.5" font-weight="normal" fill="#000" >0.4</text>
<line x1="320.5" y1="1171.6" x2="335.5" y2="1171.6" stroke="#1a1a1a" stroke-width="5" stroke-linecap="butt" />
<line x1="2306.0" y1="1171.6" x2="2321.0" y2="1171.6" stroke="#1a1a1a" stroke-width="5" stroke-linecap="butt" />
<line x1="308.0" y1="1090.3" x2="335.5" y2="1090.3" stroke="#1a1a1a" stroke-width="5" stroke-linecap="butt" />
<line x1="2293.5" y1="1090.3" x2="2321.0" y2="1090.3" stroke="#1a1a1a" stroke-width="5" stroke-linecap="butt" />
<text transform="translate(178.6,1114.3) scale(1,1.025)" font-size="80.5" font-weight="normal" fill="#000" >0.8</text>
<line x1="320.5" y1="1009.0" x2="335.5" y2="1009.0" stroke="#1a1a1a" stroke-width="5" stroke-linecap="butt" />
<text transform="translate(356.9,1131.8) scale(1,1.0)" font-size="104" font-weight="bold" fill="#000" >(c)</text>
<text transform="translate(390.2,1320.5) scale(1,1.015)" font-size="81" font-weight="normal" fill="#000" >t = 160 nm</text>
<text transform="translate(1167.5,1152.4) scale(1,1.04)" font-size="104" font-weight="bold" fill="#000" >TM</text>
<text transform="translate(1639.9,1137.8) scale(1,1.04)" font-size="101.5" font-weight="bold" fill="#000" >TE</text>
<path d="M335.5,1872.5 C377.0,1874.0 418.5,1875.3 460.0,1876.9 C501.5,1878.5 538.8,1880.5 584.5,1881.9 C640.5,1883.6 712.6,1885.1 771.5,1885.6 C824.2,1886.0 876.4,1884.1 921.2,1885.0 C957.8,1885.7 985.9,1888.3 1021.0,1889.4 C1060.1,1890.7 1121.3,1892.3 1145.0,1892.0 C1154.5,1891.9 1159.2,1892.8 1165.0,1891.1 C1170.1,1889.6 1173.9,1886.2 1178.2,1883.2 C1182.7,1880.1 1188.2,1877.7 1191.4,1872.6 C1195.5,1866.1 1196.3,1855.5 1198.0,1845.5 C1200.0,1833.6 1200.8,1820.1 1202.0,1805.9 C1203.4,1789.6 1204.7,1770.7 1205.9,1753.1 C1207.1,1735.5 1208.1,1717.9 1209.2,1700.3 C1210.3,1682.7 1211.4,1664.4 1212.5,1647.4 C1213.6,1631.5 1214.5,1614.4 1215.8,1601.2 C1216.8,1591.2 1217.2,1580.9 1219.1,1574.8 C1220.2,1571.3 1221.8,1567.0 1223.1,1567.0 C1224.4,1567.0 1226.1,1571.3 1227.1,1574.8 C1228.9,1580.9 1228.9,1591.2 1229.7,1601.2 C1230.7,1614.5 1231.4,1631.5 1232.3,1647.4 C1233.2,1664.4 1234.0,1682.7 1235.0,1700.3 C1236.0,1717.9 1237.0,1735.5 1238.3,1753.1 C1239.6,1770.7 1240.7,1790.4 1242.9,1805.9 C1244.7,1818.2 1246.4,1828.9 1249.5,1838.9 C1252.3,1847.8 1255.6,1856.0 1260.1,1863.1 C1264.3,1869.7 1268.1,1876.6 1275.0,1880.5 C1283.6,1885.3 1297.6,1884.5 1310.0,1886.0 C1324.0,1887.6 1336.9,1888.1 1354.8,1889.5 C1381.5,1891.5 1423.7,1895.5 1454.6,1897.0 C1481.3,1898.3 1505.8,1898.4 1529.4,1898.5 C1550.7,1898.6 1574.8,1899.3 1590.0,1898.0 C1599.2,1897.2 1605.1,1896.4 1612.0,1894.4 C1618.4,1892.5 1624.3,1890.1 1630.0,1886.8 C1635.8,1883.5 1640.9,1878.7 1646.3,1874.6 C1649.5,1864.4 1653.2,1855.0 1655.8,1844.0 C1658.8,1831.5 1660.8,1817.9 1662.6,1803.3 C1664.6,1786.5 1665.3,1767.0 1666.7,1748.9 C1668.1,1730.8 1669.4,1712.6 1670.8,1694.5 C1672.2,1676.4 1673.4,1656.9 1674.9,1640.1 C1676.2,1625.5 1677.4,1611.9 1678.9,1599.4 C1680.2,1588.7 1681.2,1577.1 1683.0,1569.5 C1684.2,1564.7 1685.7,1558.0 1687.1,1558.0 C1688.5,1558.0 1690.0,1564.7 1691.2,1569.5 C1693.0,1577.1 1693.9,1588.7 1695.2,1599.4 C1696.7,1611.9 1698.0,1625.5 1699.3,1640.1 C1700.8,1656.9 1701.9,1677.7 1703.4,1694.5 C1704.7,1709.1 1705.8,1722.3 1707.5,1735.3 C1709.0,1747.2 1710.2,1758.7 1712.9,1769.3 C1715.3,1779.0 1719.0,1787.5 1722.4,1796.5 C1725.8,1805.6 1729.4,1815.4 1733.3,1823.7 C1736.7,1831.1 1740.8,1837.7 1744.2,1844.0 C1747.1,1849.4 1749.6,1854.2 1752.3,1859.3 C1758.2,1862.8 1766.3,1868.4 1770.0,1870.0 C1771.5,1870.7 1771.7,1870.5 1773.4,1871.0 C1778.3,1872.4 1790.1,1877.1 1802.5,1879.5 C1823.3,1883.6 1856.4,1886.1 1887.7,1888.5 C1925.9,1891.4 1972.7,1893.1 2015.3,1894.5 C2057.8,1895.9 2096.9,1896.3 2143.0,1897.0 C2197.4,1897.8 2261.7,1898.3 2321.0,1899.0" fill="none" stroke="#0000e6" stroke-width="13" stroke-linejoin="round" stroke-linecap="butt"/>
<rect x="335.5" y="1497" width="1985.5" height="406.5" fill="none" stroke="#1a1a1a" stroke-width="5"/>
<line x1="335.5" y1="1903.5" x2="335.5" y2="1931.0" stroke="#1a1a1a" stroke-width="5" stroke-linecap="butt" />
<line x1="414.9" y1="1903.5" x2="414.9" y2="1918.5" stroke="#1a1a1a" stroke-width="5" stroke-linecap="butt" />
<line x1="414.9" y1="1497.0" x2="414.9" y2="1512.0" stroke="#1a1a1a" stroke-width="5" stroke-linecap="butt" />
<line x1="494.3" y1="1903.5" x2="494.3" y2="1918.5" stroke="#1a1a1a" stroke-width="5" stroke-linecap="butt" />
<line x1="494.3" y1="1497.0" x2="494.3" y2="1512.0" stroke="#1a1a1a" stroke-width="5" stroke-linecap="butt" />
<line x1="573.8" y1="1903.5" x2="573.8" y2="1918.5" stroke="#1a1a1a" stroke-width="5" stroke-linecap="butt" />
<line x1="573.8" y1="1497.0" x2="573.8" y2="1512.0" stroke="#1a1a1a" stroke-width="5" stroke-linecap="butt" />
<line x1="653.2" y1="1903.5" x2="653.2" y2="1918.5" stroke="#1a1a1a" stroke-width="5" stroke-linecap="butt" />
<line x1="653.2" y1="1497.0" x2="653.2" y2="1512.0" stroke="#1a1a1a" stroke-width="5" stroke-linecap="butt" />
<line x1="732.6" y1="1903.5" x2="732.6" y2="1931.0" stroke="#1a1a1a" stroke-width="5" stroke-linecap="butt" />
<line x1="732.6" y1="1497.0" x2="732.6" y2="1524.5" stroke="#1a1a1a" stroke-width="5" stroke-linecap="butt" />
<line x1="812.0" y1="1903.5" x2="812.0" y2="1918.5" stroke="#1a1a1a" stroke-width="5" stroke-linecap="butt" />
<line x1="812.0" y1="1497.0" x2="812.0" y2="1512.0" stroke="#1a1a1a" stroke-width="5" stroke-linecap="butt" />
<line x1="891.4" y1="1903.5" x2="891.4" y2="1918.5" stroke="#1a1a1a" stroke-width="5" stroke-linecap="butt" />
<line x1="891.4" y1="1497.0" x2="891.4" y2="1512.0" stroke="#1a1a1a" stroke-width="5" stroke-linecap="butt" />
<line x1="970.9" y1="1903.5" x2="970.9" y2="1918.5" stroke="#1a1a1a" stroke-width="5" stroke-linecap="butt" />
<line x1="970.9" y1="1497.0" x2="970.9" y2="1512.0" stroke="#1a1a1a" stroke-width="5" stroke-linecap="butt" />
<line x1="1050.3" y1="1903.5" x2="1050.3" y2="1918.5" stroke="#1a1a1a" stroke-width="5" stroke-linecap="butt" />
<line x1="1050.3" y1="1497.0" x2="1050.3" y2="1512.0" stroke="#1a1a1a" stroke-width="5" stroke-linecap="butt" />
<line x1="1129.7" y1="1903.5" x2="1129.7" y2="1931.0" stroke="#1a1a1a" stroke-width="5" stroke-linecap="butt" />
<line x1="1129.7" y1="1497.0" x2="1129.7" y2="1524.5" stroke="#1a1a1a" stroke-width="5" stroke-linecap="butt" />
<line x1="1209.1" y1="1903.5" x2="1209.1" y2="1918.5" stroke="#1a1a1a" stroke-width="5" stroke-linecap="butt" />
<line x1="1209.1" y1="1497.0" x2="1209.1" y2="1512.0" stroke="#1a1a1a" stroke-width="5" stroke-linecap="butt" />
<line x1="1288.5" y1="1903.5" x2="1288.5" y2="1918.5" stroke="#1a1a1a" stroke-width="5" stroke-linecap="butt" />
<line x1="1288.5" y1="1497.0" x2="1288.5" y2="1512.0" stroke="#1a1a1a" stroke-width="5" stroke-linecap="butt" />
<line x1="1368.0" y1="1903.5" x2="1368.0" y2="1918.5" stroke="#1a1a1a" stroke-width="5" stroke-linecap="butt" />
<line x1="1368.0" y1="1497.0" x2="1368.0" y2="1512.0" stroke="#1a1a1a" stroke-width="5" stroke-linecap="butt" />
<line x1="1447.4" y1="1903.5" x2="1447.4" y2="1918.5" stroke="#1a1a1a" stroke-width="5" stroke-linecap="butt" />
<line x1="1447.4" y1="1497.0" x2="1447.4" y2="1512.0" stroke="#1a1a1a" stroke-width="5" stroke-linecap="butt" />
<line x1="1526.8" y1="1903.5" x2="1526.8" y2="1931.0" stroke="#1a1a1a" stroke-width="5" stroke-linecap="butt" />
<line x1="1526.8" y1="1497.0" x2="1526.8" y2="1524.5" stroke="#1a1a1a" stroke-width="5" stroke-linecap="butt" />
<line x1="1606.2" y1="1903.5" x2="1606.2" y2="1918.5" stroke="#1a1a1a" stroke-width="5" stroke-linecap="butt" />
<line x1="1606.2" y1="1497.0" x2="1606.2" y2="1512.0" stroke="#1a1a1a" stroke-width="5" stroke-linecap="butt" />
<line x1="1685.6" y1="1903.5" x2="1685.6" y2="1918.5" stroke="#1a1a1a" stroke-width="5" stroke-linecap="butt" />
<line x1="1685.6" y1="1497.0" x2="1685.6" y2="1512.0" stroke="#1a1a1a" stroke-width="5" stroke-linecap="butt" />
<line x1="1765.1" y1="1903.5" x2="1765.1" y2="1918.5" stroke="#1a1a1a" stroke-width="5" stroke-linecap="butt" />
<line x1="1765.1" y1="1497.0" x2="1765.1" y2="1512.0" stroke="#1a1a1a" stroke-width="5" stroke-linecap="butt" />
<line x1="1844.5" y1="1903.5" x2="1844.5" y2="1918.5" stroke="#1a1a1a" stroke-width="5" stroke-linecap="butt" />
<line x1="1844.5" y1="1497.0" x2="1844.5" y2="1512.0" stroke="#1a1a1a" stroke-width="5" stroke-linecap="butt" />
<line x1="1923.9" y1="1903.5" x2="1923.9" y2="1931.0" stroke="#1a1a1a" stroke-width="5" stroke-linecap="butt" />
<line x1="1923.9" y1="1497.0" x2="1923.9" y2="1524.5" stroke="#1a1a1a" stroke-width="5" stroke-linecap="butt" />
<line x1="2003.3" y1="1903.5" x2="2003.3" y2="1918.5" stroke="#1a1a1a" stroke-width="5" stroke-linecap="butt" />
<line x1="2003.3" y1="1497.0" x2="2003.3" y2="1512.0" stroke="#1a1a1a" stroke-width="5" stroke-linecap="butt" />
<line x1="2082.7" y1="1903.5" x2="2082.7" y2="1918.5" stroke="#1a1a1a" stroke-width="5" stroke-linecap="butt" />
<line x1="2082.7" y1="1497.0" x2="2082.7" y2="1512.0" stroke="#1a1a1a" stroke-width="5" stroke-linecap="butt" />
<line x1="2162.2" y1="1903.5" x2="2162.2" y2="1918.5" stroke="#1a1a1a" stroke-width="5" stroke-linecap="butt" />
<line x1="2162.2" y1="1497.0" x2="2162.2" y2="1512.0" stroke="#1a1a1a" stroke-width="5" stroke-linecap="butt" />
<line x1="2241.6" y1="1903.5" x2="2241.6" y2="1918.5" stroke="#1a1a1a" stroke-width="5" stroke-linecap="butt" />
<line x1="2241.6" y1="1497.0" x2="2241.6" y2="1512.0" stroke="#1a1a1a" stroke-width="5" stroke-linecap="butt" />
<line x1="2321.0" y1="1903.5" x2="2321.0" y2="1931.0" stroke="#1a1a1a" stroke-width="5" stroke-linecap="butt" />
<line x1="308.0" y1="1903.5" x2="335.5" y2="1903.5" stroke="#1a1a1a" stroke-width="5" stroke-linecap="butt" />
<text transform="translate(178.2,1927.5) scale(1,1.025)" font-size="80.5" font-weight="normal" fill="#000" >0.0</text>
<line x1="320.5" y1="1822.2" x2="335.5" y2="1822.2" stroke="#1a1a1a" stroke-width="5" stroke-linecap="butt" />
<line x1="2306.0" y1="1822.2" x2="2321.0" y2="1822.2" stroke="#1a1a1a" stroke-width="5" stroke-linecap="butt" />
<line x1="308.0" y1="1740.9" x2="335.5" y2="1740.9" stroke="#1a1a1a" stroke-width="5" stroke-linecap="butt" />
<line x1="2293.5" y1="1740.9" x2="2321.0" y2="1740.9" stroke="#1a1a1a" stroke-width="5" stroke-linecap="butt" />
<text transform="translate(177.4,1764.9) scale(1,1.025)" font-size="80.5" font-weight="normal" fill="#000" >0.4</text>
<line x1="320.5" y1="1659.6" x2="335.5" y2="1659.6" stroke="#1a1a1a" stroke-width="5" stroke-linecap="butt" />
<line x1="2306.0" y1="1659.6" x2="2321.0" y2="1659.6" stroke="#1a1a1a" stroke-width="5" stroke-linecap="butt" />
<line x1="308.0" y1="1578.3" x2="335.5" y2="1578.3" stroke="#1a1a1a" stroke-width="5" stroke-linecap="butt" />
<line x1="2293.5" y1="1578.3" x2="2321.0" y2="1578.3" stroke="#1a1a1a" stroke-width="5" stroke-linecap="butt" />
<text transform="translate(178.6,1602.3) scale(1,1.025)" font-size="80.5" font-weight="normal" fill="#000" >0.8</text>
<line x1="320.5" y1="1497.0" x2="335.5" y2="1497.0" stroke="#1a1a1a" stroke-width="5" stroke-linecap="butt" />
<text transform="translate(354.9,1600.2) scale(1,1.0)" font-size="104" font-weight="bold" fill="#000" >(d)</text>
<text transform="translate(390.2,1809.0) scale(1,1.015)" font-size="81" font-weight="normal" fill="#000" >t = 180 nm</text>
<text transform="translate(1276.3,1640.2) scale(1,1.04)" font-size="104" font-weight="bold" fill="#000" >TM</text>
<text transform="translate(1736.9,1626.6) scale(1,1.04)" font-size="101.5" font-weight="bold" fill="#000" >TE</text>
<path d="M335.5,2364.3 C405.0,2366.6 474.5,2369.5 544.0,2371.2 C613.6,2372.9 683.3,2373.8 753.0,2374.7 C822.7,2375.6 892.3,2376.0 962.0,2376.8 C1031.7,2377.6 1118.0,2378.8 1171.0,2379.6 C1203.6,2380.1 1229.3,2381.3 1250.0,2381.0 C1263.3,2380.8 1271.9,2380.0 1282.9,2379.5 L1309.3,2301.2 C1311.1,2288.0 1313.3,2275.4 1314.6,2261.6 C1316.1,2246.5 1316.3,2230.2 1317.5,2214.0 C1318.7,2197.2 1320.6,2179.2 1321.7,2162.7 C1322.7,2147.4 1323.1,2133.2 1323.9,2118.5 C1324.7,2103.9 1325.1,2087.4 1326.5,2075.0 C1327.5,2065.6 1329.2,2050.5 1330.5,2050.5 C1331.8,2050.5 1333.5,2065.6 1334.5,2075.0 C1335.8,2087.4 1335.7,2103.9 1336.4,2118.5 C1337.1,2133.2 1337.8,2147.4 1338.8,2162.7 C1339.9,2179.2 1341.8,2197.2 1342.8,2214.0 C1343.8,2230.2 1343.9,2246.5 1344.8,2261.6 C1345.6,2275.4 1346.9,2288.0 1348.0,2301.2 C1350.4,2310.0 1352.1,2319.2 1355.1,2327.7 C1358.0,2336.0 1361.1,2345.3 1365.7,2351.7 C1369.7,2357.3 1373.8,2361.6 1380.0,2364.9 C1387.8,2369.0 1398.2,2370.1 1410.0,2372.0 C1426.6,2374.7 1448.0,2375.8 1470.4,2377.2 C1498.3,2378.9 1533.1,2379.9 1564.4,2380.7 C1595.7,2381.5 1633.3,2381.6 1658.3,2381.9 C1675.0,2382.1 1688.7,2382.6 1700.0,2382.5 C1707.7,2382.5 1713.0,2382.2 1719.5,2382.0 L1754.5,2342.2 C1756.2,2331.5 1758.3,2320.7 1759.5,2310.0 C1760.7,2299.5 1761.1,2290.6 1761.8,2278.5 C1762.8,2262.2 1763.7,2240.2 1764.6,2221.1 C1765.6,2201.9 1766.3,2182.8 1767.5,2163.6 C1768.7,2144.5 1770.4,2124.0 1771.8,2106.2 C1773.0,2090.8 1773.6,2075.2 1775.4,2063.1 C1776.7,2054.2 1778.7,2040.1 1780.4,2040.1 C1782.1,2040.1 1784.2,2054.2 1785.5,2063.1 C1787.3,2075.2 1787.8,2090.8 1789.0,2106.2 C1790.4,2124.0 1792.0,2144.5 1793.4,2163.6 C1794.9,2182.8 1796.0,2202.0 1797.7,2221.1 C1799.4,2240.3 1800.2,2260.9 1803.4,2278.5 C1806.2,2294.0 1809.8,2309.8 1814.9,2321.6 C1818.9,2330.8 1822.6,2338.0 1829.3,2344.7 C1837.0,2352.4 1849.8,2360.2 1860.0,2363.8 C1868.7,2366.9 1875.2,2365.9 1886.0,2367.0 C1904.0,2368.9 1931.6,2371.3 1958.0,2373.0 C1990.3,2375.1 2027.3,2376.6 2065.8,2377.8 C2110.3,2379.2 2164.8,2379.7 2209.7,2380.3 C2249.2,2380.8 2283.9,2381.0 2321.0,2381.4" fill="none" stroke="#22eaea" stroke-width="13" stroke-linejoin="round" stroke-linecap="butt"/>
<rect x="335.5" y="1980" width="1985.5" height="407" fill="none" stroke="#1a1a1a" stroke-width="5"/>
<line x1="335.5" y1="2387.0" x2="335.5" y2="2414.5" stroke="#1a1a1a" stroke-width="5" stroke-linecap="butt" />
<line x1="414.9" y1="2387.0" x2="414.9" y2="2402.0" stroke="#1a1a1a" stroke-width="5" stroke-linecap="butt" />
<line x1="414.9" y1="1980.0" x2="414.9" y2="1995.0" stroke="#1a1a1a" stroke-width="5" stroke-linecap="butt" />
<line x1="494.3" y1="2387.0" x2="494.3" y2="2402.0" stroke="#1a1a1a" stroke-width="5" stroke-linecap="butt" />
<line x1="494.3" y1="1980.0" x2="494.3" y2="1995.0" stroke="#1a1a1a" stroke-width="5" stroke-linecap="butt" />
<line x1="573.8" y1="2387.0" x2="573.8" y2="2402.0" stroke="#1a1a1a" stroke-width="5" stroke-linecap="butt" />
<line x1="573.8" y1="1980.0" x2="573.8" y2="1995.0" stroke="#1a1a1a" stroke-width="5" stroke-linecap="butt" />
<line x1="653.2" y1="2387.0" x2="653.2" y2="2402.0" stroke="#1a1a1a" stroke-width="5" stroke-linecap="butt" />
<line x1="653.2" y1="1980.0" x2="653.2" y2="1995.0" stroke="#1a1a1a" stroke-width="5" stroke-linecap="butt" />
<line x1="732.6" y1="2387.0" x2="732.6" y2="2414.5" stroke="#1a1a1a" stroke-width="5" stroke-linecap="butt" />
<line x1="732.6" y1="1980.0" x2="732.6" y2="2007.5" stroke="#1a1a1a" stroke-width="5" stroke-linecap="butt" />
<line x1="812.0" y1="2387.0" x2="812.0" y2="2402.0" stroke="#1a1a1a" stroke-width="5" stroke-linecap="butt" />
<line x1="812.0" y1="1980.0" x2="812.0" y2="1995.0" stroke="#1a1a1a" stroke-width="5" stroke-linecap="butt" />
<line x1="891.4" y1="2387.0" x2="891.4" y2="2402.0" stroke="#1a1a1a" stroke-width="5" stroke-linecap="butt" />
<line x1="891.4" y1="1980.0" x2="891.4" y2="1995.0" stroke="#1a1a1a" stroke-width="5" stroke-linecap="butt" />
<line x1="970.9" y1="2387.0" x2="970.9" y2="2402.0" stroke="#1a1a1a" stroke-width="5" stroke-linecap="butt" />
<line x1="970.9" y1="1980.0" x2="970.9" y2="1995.0" stroke="#1a1a1a" stroke-width="5" stroke-linecap="butt" />
<line x1="1050.3" y1="2387.0" x2="1050.3" y2="2402.0" stroke="#1a1a1a" stroke-width="5" stroke-linecap="butt" />
<line x1="1050.3" y1="1980.0" x2="1050.3" y2="1995.0" stroke="#1a1a1a" stroke-width="5" stroke-linecap="butt" />
<line x1="1129.7" y1="2387.0" x2="1129.7" y2="2414.5" stroke="#1a1a1a" stroke-width="5" stroke-linecap="butt" />
<line x1="1129.7" y1="1980.0" x2="1129.7" y2="2007.5" stroke="#1a1a1a" stroke-width="5" stroke-linecap="butt" />
<line x1="1209.1" y1="2387.0" x2="1209.1" y2="2402.0" stroke="#1a1a1a" stroke-width="5" stroke-linecap="butt" />
<line x1="1209.1" y1="1980.0" x2="1209.1" y2="1995.0" stroke="#1a1a1a" stroke-width="5" stroke-linecap="butt" />
<line x1="1288.5" y1="2387.0" x2="1288.5" y2="2402.0" stroke="#1a1a1a" stroke-width="5" stroke-linecap="butt" />
<line x1="1288.5" y1="1980.0" x2="1288.5" y2="1995.0" stroke="#1a1a1a" stroke-width="5" stroke-linecap="butt" />
<line x1="1368.0" y1="2387.0" x2="1368.0" y2="2402.0" stroke="#1a1a1a" stroke-width="5" stroke-linecap="butt" />
<line x1="1368.0" y1="1980.0" x2="1368.0" y2="1995.0" stroke="#1a1a1a" stroke-width="5" stroke-linecap="butt" />
<line x1="1447.4" y1="2387.0" x2="1447.4" y2="2402.0" stroke="#1a1a1a" stroke-width="5" stroke-linecap="butt" />
<line x1="1447.4" y1="1980.0" x2="1447.4" y2="1995.0" stroke="#1a1a1a" stroke-width="5" stroke-linecap="butt" />
<line x1="1526.8" y1="2387.0" x2="1526.8" y2="2414.5" stroke="#1a1a1a" stroke-width="5" stroke-linecap="butt" />
<line x1="1526.8" y1="1980.0" x2="1526.8" y2="2007.5" stroke="#1a1a1a" stroke-width="5" stroke-linecap="butt" />
<line x1="1606.2" y1="2387.0" x2="1606.2" y2="2402.0" stroke="#1a1a1a" stroke-width="5" stroke-linecap="butt" />
<line x1="1606.2" y1="1980.0" x2="1606.2" y2="1995.0" stroke="#1a1a1a" stroke-width="5" stroke-linecap="butt" />
<line x1="1685.6" y1="2387.0" x2="1685.6" y2="2402.0" stroke="#1a1a1a" stroke-width="5" stroke-linecap="butt" />
<line x1="1685.6" y1="1980.0" x2="1685.6" y2="1995.0" stroke="#1a1a1a" stroke-width="5" stroke-linecap="butt" />
<line x1="1765.1" y1="2387.0" x2="1765.1" y2="2402.0" stroke="#1a1a1a" stroke-width="5" stroke-linecap="butt" />
<line x1="1765.1" y1="1980.0" x2="1765.1" y2="1995.0" stroke="#1a1a1a" stroke-width="5" stroke-linecap="butt" />
<line x1="1844.5" y1="2387.0" x2="1844.5" y2="2402.0" stroke="#1a1a1a" stroke-width="5" stroke-linecap="butt" />
<line x1="1844.5" y1="1980.0" x2="1844.5" y2="1995.0" stroke="#1a1a1a" stroke-width="5" stroke-linecap="butt" />
<line x1="1923.9" y1="2387.0" x2="1923.9" y2="2414.5" stroke="#1a1a1a" stroke-width="5" stroke-linecap="butt" />
<line x1="1923.9" y1="1980.0" x2="1923.9" y2="2007.5" stroke="#1a1a1a" stroke-width="5" stroke-linecap="butt" />
<line x1="2003.3" y1="2387.0" x2="2003.3" y2="2402.0" stroke="#1a1a1a" stroke-width="5" stroke-linecap="butt" />
<line x1="2003.3" y1="1980.0" x2="2003.3" y2="1995.0" stroke="#1a1a1a" stroke-width="5" stroke-linecap="butt" />
<line x1="2082.7" y1="2387.0" x2="2082.7" y2="2402.0" stroke="#1a1a1a" stroke-width="5" stroke-linecap="butt" />
<line x1="2082.7" y1="1980.0" x2="2082.7" y2="1995.0" stroke="#1a1a1a" stroke-width="5" stroke-linecap="butt" />
<line x1="2162.2" y1="2387.0" x2="2162.2" y2="2402.0" stroke="#1a1a1a" stroke-width="5" stroke-linecap="butt" />
<line x1="2162.2" y1="1980.0" x2="2162.2" y2="1995.0" stroke="#1a1a1a" stroke-width="5" stroke-linecap="butt" />
<line x1="2241.6" y1="2387.0" x2="2241.6" y2="2402.0" stroke="#1a1a1a" stroke-width="5" stroke-linecap="butt" />
<line x1="2241.6" y1="1980.0" x2="2241.6" y2="1995.0" stroke="#1a1a1a" stroke-width="5" stroke-linecap="butt" />
<line x1="2321.0" y1="2387.0" x2="2321.0" y2="2414.5" stroke="#1a1a1a" stroke-width="5" stroke-linecap="butt" />
<line x1="308.0" y1="2387.0" x2="335.5" y2="2387.0" stroke="#1a1a1a" stroke-width="5" stroke-linecap="butt" />
<text transform="translate(178.2,2411.0) scale(1,1.025)" font-size="80.5" font-weight="normal" fill="#000" >0.0</text>
<line x1="320.5" y1="2305.6" x2="335.5" y2="2305.6" stroke="#1a1a1a" stroke-width="5" stroke-linecap="butt" />
<line x1="2306.0" y1="2305.6" x2="2321.0" y2="2305.6" stroke="#1a1a1a" stroke-width="5" stroke-linecap="butt" />
<line x1="308.0" y1="2224.2" x2="335.5" y2="2224.2" stroke="#1a1a1a" stroke-width="5" stroke-linecap="butt" />
<line x1="2293.5" y1="2224.2" x2="2321.0" y2="2224.2" stroke="#1a1a1a" stroke-width="5" stroke-linecap="butt" />
<text transform="translate(177.4,2248.2) scale(1,1.025)" font-size="80.5" font-weight="normal" fill="#000" >0.4</text>
<line x1="320.5" y1="2142.8" x2="335.5" y2="2142.8" stroke="#1a1a1a" stroke-width="5" stroke-linecap="butt" />
<line x1="2306.0" y1="2142.8" x2="2321.0" y2="2142.8" stroke="#1a1a1a" stroke-width="5" stroke-linecap="butt" />
<line x1="308.0" y1="2061.4" x2="335.5" y2="2061.4" stroke="#1a1a1a" stroke-width="5" stroke-linecap="butt" />
<line x1="2293.5" y1="2061.4" x2="2321.0" y2="2061.4" stroke="#1a1a1a" stroke-width="5" stroke-linecap="butt" />
<text transform="translate(178.6,2085.4) scale(1,1.025)" font-size="80.5" font-weight="normal" fill="#000" >0.8</text>
<line x1="320.5" y1="1980.0" x2="335.5" y2="1980.0" stroke="#1a1a1a" stroke-width="5" stroke-linecap="butt" />
<text transform="translate(356.9,2085.2) scale(1,1.0)" font-size="104" font-weight="bold" fill="#000" >(e)</text>
<text transform="translate(390.2,2294.0) scale(1,1.015)" font-size="81" font-weight="normal" fill="#000" >t = 200 nm</text>
<text transform="translate(1370.4,2123.1) scale(1,1.04)" font-size="104" font-weight="bold" fill="#000" >TM</text>
<text transform="translate(1833.9,2103.6) scale(1,1.04)" font-size="101.5" font-weight="bold" fill="#000" >TE</text>
<text transform="translate(247.7,2511.0) scale(1,1.03)" font-size="104.5" font-weight="normal" fill="#000" >650</text>
<text transform="translate(644.8,2511.0) scale(1,1.03)" font-size="104.5" font-weight="normal" fill="#000" >700</text>
<text transform="translate(1041.9,2511.0) scale(1,1.03)" font-size="104.5" font-weight="normal" fill="#000" >750</text>
<text transform="translate(1439.4,2511.0) scale(1,1.03)" font-size="104.5" font-weight="normal" fill="#000" >800</text>
<text transform="translate(1836.5,2511.0) scale(1,1.03)" font-size="104.5" font-weight="normal" fill="#000" >850</text>
<text transform="translate(2233.4,2511.0) scale(1,1.03)" font-size="104.5" font-weight="normal" fill="#000" >900</text>
<text transform="translate(909.7,2679.0) scale(1,1.02)" font-size="104.5" font-weight="bold" fill="#000" >Wavelength (nm)</text>
<text transform="translate(114.6,1413.1) rotate(-90) scale(1,1.0)" font-size="103.5" font-weight="bold">Reflection</text>
<line x1="538.2" y1="2803.5" x2="538.2" y2="4270.8" stroke="#e9e9e9" stroke-width="3" stroke-linecap="butt" />
<line x1="757.5" y1="2803.5" x2="757.5" y2="4270.8" stroke="#e9e9e9" stroke-width="3" stroke-linecap="butt" />
<line x1="976.8" y1="2803.5" x2="976.8" y2="4270.8" stroke="#e9e9e9" stroke-width="3" stroke-linecap="butt" />
<line x1="1196.2" y1="2803.5" x2="1196.2" y2="4270.8" stroke="#e9e9e9" stroke-width="3" stroke-linecap="butt" />
<line x1="1415.5" y1="2803.5" x2="1415.5" y2="4270.8" stroke="#e9e9e9" stroke-width="3" stroke-linecap="butt" />
<line x1="1634.8" y1="2803.5" x2="1634.8" y2="4270.8" stroke="#e9e9e9" stroke-width="3" stroke-linecap="butt" />
<line x1="1854.2" y1="2803.5" x2="1854.2" y2="4270.8" stroke="#e9e9e9" stroke-width="3" stroke-linecap="butt" />
<line x1="2073.5" y1="2803.5" x2="2073.5" y2="4270.8" stroke="#e9e9e9" stroke-width="3" stroke-linecap="butt" />
<line x1="2292.8" y1="2803.5" x2="2292.8" y2="4270.8" stroke="#e9e9e9" stroke-width="3" stroke-linecap="butt" />
<line x1="428.5" y1="4107.8" x2="2402.5" y2="4107.8" stroke="#e9e9e9" stroke-width="3" stroke-linecap="butt" />
<line x1="428.5" y1="3944.7" x2="2402.5" y2="3944.7" stroke="#e9e9e9" stroke-width="3" stroke-linecap="butt" />
<line x1="428.5" y1="3781.7" x2="2402.5" y2="3781.7" stroke="#e9e9e9" stroke-width="3" stroke-linecap="butt" />
<line x1="428.5" y1="3618.7" x2="2402.5" y2="3618.7" stroke="#e9e9e9" stroke-width="3" stroke-linecap="butt" />
<line x1="428.5" y1="3455.6" x2="2402.5" y2="3455.6" stroke="#e9e9e9" stroke-width="3" stroke-linecap="butt" />
<line x1="428.5" y1="3292.6" x2="2402.5" y2="3292.6" stroke="#e9e9e9" stroke-width="3" stroke-linecap="butt" />
<line x1="428.5" y1="3129.6" x2="2402.5" y2="3129.6" stroke="#e9e9e9" stroke-width="3" stroke-linecap="butt" />
<line x1="428.5" y1="2966.5" x2="2402.5" y2="2966.5" stroke="#e9e9e9" stroke-width="3" stroke-linecap="butt" />
<line x1="428.5" y1="2803.5" x2="2402.5" y2="2803.5" stroke="#e9e9e9" stroke-width="3" stroke-linecap="butt" />
<rect x="428.5" y="2803.5" width="1974.0" height="1467.3000000000002" fill="none" stroke="#1a1a1a" stroke-width="5"/>
<line x1="538.2" y1="4270.8" x2="538.2" y2="4300.8" stroke="#1a1a1a" stroke-width="5" stroke-linecap="butt" />
<line x1="538.2" y1="2803.5" x2="538.2" y2="2833.5" stroke="#1a1a1a" stroke-width="5" stroke-linecap="butt" />
<line x1="757.5" y1="4270.8" x2="757.5" y2="4286.8" stroke="#1a1a1a" stroke-width="5" stroke-linecap="butt" />
<line x1="757.5" y1="2803.5" x2="757.5" y2="2819.5" stroke="#1a1a1a" stroke-width="5" stroke-linecap="butt" />
<line x1="976.8" y1="4270.8" x2="976.8" y2="4300.8" stroke="#1a1a1a" stroke-width="5" stroke-linecap="butt" />
<line x1="976.8" y1="2803.5" x2="976.8" y2="2833.5" stroke="#1a1a1a" stroke-width="5" stroke-linecap="butt" />
<line x1="1196.2" y1="4270.8" x2="1196.2" y2="4286.8" stroke="#1a1a1a" stroke-width="5" stroke-linecap="butt" />
<line x1="1196.2" y1="2803.5" x2="1196.2" y2="2819.5" stroke="#1a1a1a" stroke-width="5" stroke-linecap="butt" />
<line x1="1415.5" y1="4270.8" x2="1415.5" y2="4300.8" stroke="#1a1a1a" stroke-width="5" stroke-linecap="butt" />
<line x1="1415.5" y1="2803.5" x2="1415.5" y2="2833.5" stroke="#1a1a1a" stroke-width="5" stroke-linecap="butt" />
<line x1="1634.8" y1="4270.8" x2="1634.8" y2="4286.8" stroke="#1a1a1a" stroke-width="5" stroke-linecap="butt" />
<line x1="1634.8" y1="2803.5" x2="1634.8" y2="2819.5" stroke="#1a1a1a" stroke-width="5" stroke-linecap="butt" />
<line x1="1854.2" y1="4270.8" x2="1854.2" y2="4300.8" stroke="#1a1a1a" stroke-width="5" stroke-linecap="butt" />
<line x1="1854.2" y1="2803.5" x2="1854.2" y2="2833.5" stroke="#1a1a1a" stroke-width="5" stroke-linecap="butt" />
<line x1="2073.5" y1="4270.8" x2="2073.5" y2="4286.8" stroke="#1a1a1a" stroke-width="5" stroke-linecap="butt" />
<line x1="2073.5" y1="2803.5" x2="2073.5" y2="2819.5" stroke="#1a1a1a" stroke-width="5" stroke-linecap="butt" />
<line x1="2292.8" y1="4270.8" x2="2292.8" y2="4300.8" stroke="#1a1a1a" stroke-width="5" stroke-linecap="butt" />
<line x1="2292.8" y1="2803.5" x2="2292.8" y2="2833.5" stroke="#1a1a1a" stroke-width="5" stroke-linecap="butt" />
<line x1="398.5" y1="4270.8" x2="428.5" y2="4270.8" stroke="#1a1a1a" stroke-width="5" stroke-linecap="butt" />
<text transform="translate(189.7,4304.6) scale(1,1.025)" font-size="114" font-weight="normal" fill="#000" >650</text>
<line x1="412.5" y1="4107.8" x2="428.5" y2="4107.8" stroke="#1a1a1a" stroke-width="5" stroke-linecap="butt" />
<line x1="2386.5" y1="4107.8" x2="2402.5" y2="4107.8" stroke="#1a1a1a" stroke-width="5" stroke-linecap="butt" />
<line x1="398.5" y1="3944.7" x2="428.5" y2="3944.7" stroke="#1a1a1a" stroke-width="5" stroke-linecap="butt" />
<line x1="2372.5" y1="3944.7" x2="2402.5" y2="3944.7" stroke="#1a1a1a" stroke-width="5" stroke-linecap="butt" />
<text transform="translate(189.7,3978.5) scale(1,1.025)" font-size="114" font-weight="normal" fill="#000" >700</text>
<line x1="412.5" y1="3781.7" x2="428.5" y2="3781.7" stroke="#1a1a1a" stroke-width="5" stroke-linecap="butt" />
<line x1="2386.5" y1="3781.7" x2="2402.5" y2="3781.7" stroke="#1a1a1a" stroke-width="5" stroke-linecap="butt" />
<line x1="398.5" y1="3618.7" x2="428.5" y2="3618.7" stroke="#1a1a1a" stroke-width="5" stroke-linecap="butt" />
<line x1="2372.5" y1="3618.7" x2="2402.5" y2="3618.7" stroke="#1a1a1a" stroke-width="5" stroke-linecap="butt" />
<text transform="translate(189.7,3652.5) scale(1,1.025)" font-size="114" font-weight="normal" fill="#000" >750</text>
<line x1="412.5" y1="3455.6" x2="428.5" y2="3455.6" stroke="#1a1a1a" stroke-width="5" stroke-linecap="butt" />
<line x1="2386.5" y1="3455.6" x2="2402.5" y2="3455.6" stroke="#1a1a1a" stroke-width="5" stroke-linecap="butt" />
<line x1="398.5" y1="3292.6" x2="428.5" y2="3292.6" stroke="#1a1a1a" stroke-width="5" stroke-linecap="butt" />
<line x1="2372.5" y1="3292.6" x2="2402.5" y2="3292.6" stroke="#1a1a1a" stroke-width="5" stroke-linecap="butt" />
<text transform="translate(189.7,3326.4) scale(1,1.025)" font-size="114" font-weight="normal" fill="#000" >800</text>
<line x1="412.5" y1="3129.6" x2="428.5" y2="3129.6" stroke="#1a1a1a" stroke-width="5" stroke-linecap="butt" />
<line x1="2386.5" y1="3129.6" x2="2402.5" y2="3129.6" stroke="#1a1a1a" stroke-width="5" stroke-linecap="butt" />
<line x1="398.5" y1="2966.5" x2="428.5" y2="2966.5" stroke="#1a1a1a" stroke-width="5" stroke-linecap="butt" />
<line x1="2372.5" y1="2966.5" x2="2402.5" y2="2966.5" stroke="#1a1a1a" stroke-width="5" stroke-linecap="butt" />
<text transform="translate(189.7,3000.3) scale(1,1.025)" font-size="114" font-weight="normal" fill="#000" >850</text>
<line x1="412.5" y1="2803.5" x2="428.5" y2="2803.5" stroke="#1a1a1a" stroke-width="5" stroke-linecap="butt" />
<text transform="translate(446.6,4407.0) scale(1,1.025)" font-size="111.5" font-weight="normal" fill="#000" >120</text>
<text transform="translate(885.2,4407.0) scale(1,1.025)" font-size="111.5" font-weight="normal" fill="#000" >140</text>
<text transform="translate(1323.9,4407.0) scale(1,1.025)" font-size="111.5" font-weight="normal" fill="#000" >160</text>
<text transform="translate(1762.6,4407.0) scale(1,1.025)" font-size="111.5" font-weight="normal" fill="#000" >180</text>
<text transform="translate(2199.2,4407.0) scale(1,1.025)" font-size="111.5" font-weight="normal" fill="#000" >200</text>
<text transform="translate(964.0,4591.5) scale(1,1.02)" font-size="113.7" font-weight="bold" fill="#000" >Thickness t (nm)</text>
<text transform="translate(122.1,4379.4) rotate(-90) scale(1,1.0)" font-size="113.7" font-weight="bold">Resonance wavelength (nm)</text>
<path d="M538.2,3445.9 L757.5,3401.5 L976.8,3357.8 L1196.2,3302.4 L1415.5,3250.2 L1634.8,3206.5 L1854.2,3164.8 L2073.5,3124.3 L2292.8,3086.5" fill="none" stroke="#f00000" stroke-width="16" stroke-linejoin="round"/>
<path d="M538.2,3760.8 L757.5,3737.4 L976.8,3710.0 L1196.2,3674.1 L1415.5,3633.0 L1634.8,3592.6 L1854.2,3550.2 L2073.5,3506.5 L2292.8,3462.2" fill="none" stroke="#000" stroke-width="16" stroke-linejoin="round"/>
<ellipse cx="538.2" cy="3440.6" rx="28.5" ry="30" fill="#0000f0"/>
<ellipse cx="976.8" cy="3339.6" rx="28.5" ry="30" fill="#0000f0"/>
<ellipse cx="1415.5" cy="3245.6" rx="28.5" ry="30" fill="#0000f0"/>
<ellipse cx="1854.2" cy="3161.5" rx="28.5" ry="30" fill="#0000f0"/>
<ellipse cx="2292.8" cy="3082.6" rx="28.5" ry="30" fill="#0000f0"/>
<rect x="511.7" y="3729.8" width="53" height="53" fill="#f00000"/>
<rect x="950.3" y="3674.3" width="53" height="53" fill="#f00000"/>
<rect x="1389.0" y="3599.3" width="53" height="53" fill="#f00000"/>
<rect x="1827.7" y="3516.5" width="53" height="53" fill="#f00000"/>
<rect x="2266.3" y="3428.5" width="53" height="53" fill="#f00000"/>
<line x1="487.4" y1="2993.3" x2="715.0" y2="2993.3" stroke="#f00000" stroke-width="17" stroke-linecap="round" />
<text transform="translate(744.6,3027.0) scale(1,1.0)" font-size="101" font-weight="bold" fill="#000" >TE waveguide mode</text>
<circle cx="601.2" cy="3117.5" r="23.4" fill="#0000f0"/>
<text transform="translate(742.2,3152.4) scale(1,1.0)" font-size="101" font-weight="bold" fill="#000" >Reflection peak 2</text>
<line x1="1112.5" y1="3986.2" x2="1341.8" y2="3986.2" stroke="#000" stroke-width="17" stroke-linecap="round" />
<text transform="translate(1369.7,4020.0) scale(1,1.0)" font-size="101" font-weight="bold" fill="#000" >TM waveguide mode</text>
<rect x="1206.2" y="4089.5" width="42" height="42" fill="#f00000"/>
<text transform="translate(1367.3,4145.0) scale(1,1.0)" font-size="101" font-weight="bold" fill="#000" >Reflection peak 1</text>
<text transform="translate(1925.1,2986.3) scale(0.8746,1.0557)" font-size="160" font-weight="bold">(</text>
<text transform="translate(1976.3,2991.4) scale(1.16,1.0776)" font-size="160" font-weight="bold">f</text>
<text transform="translate(2046.3,2986.3) scale(0.8746,1.0557)" font-size="160" font-weight="bold">)</text>
</g>
</svg></body></html>
